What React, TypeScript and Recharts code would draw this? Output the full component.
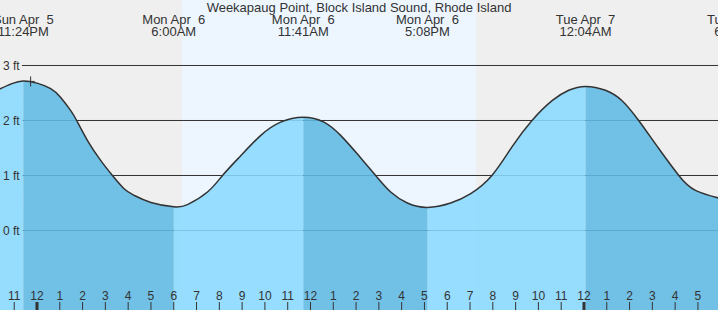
import {
  Area,
  ComposedChart,
  Line,
  ReferenceArea,
  ReferenceDot,
  ReferenceLine,
  XAxis,
  YAxis,
} from "recharts";

// tide curve: hours from midnight Apr 6, height in ft
const tideHours = [
  -1.7, -1.1, -0.6, 0.0, 0.6, 1.04, 1.48, 1.74, 2.21, 2.8, 3.31, 3.82, 4.26, 5.0,
  6.0, 6.6, 7.48, 8.14, 8.94, 9.82, 10.69, 11.683, 12.59, 13.32, 14.06, 14.86,
  15.52, 16.25, 17.133, 18.15, 19.03, 19.96, 20.84, 21.72, 22.6, 23.33, 24.067,
  24.94, 25.67, 26.4, 27.28, 28.16, 28.89, 29.91, 30.0,
];
const tideFeet = [
  2.56, 2.67, 2.72, 2.68, 2.58, 2.42, 2.18, 2.0, 1.64, 1.27, 1.0, 0.76, 0.64, 0.51,
  0.43, 0.47, 0.7, 1.0, 1.36, 1.73, 1.97, 2.06, 1.97, 1.73, 1.39, 1.0,
  0.7, 0.5, 0.42, 0.5, 0.67, 1.0, 1.52, 2.0, 2.36, 2.55, 2.62,
  2.55, 2.36, 2.0, 1.49, 1.0, 0.73, 0.59, 0.58,
];

const extremeHours = [-0.6, 6.0, 11.683, 17.133, 24.067, 30.7];
const extremeKinds = ["H", "L", "H", "L", "H", "L"];
const extremeDays = ["Sun Apr  5", "Mon Apr  6", "Mon Apr  6", "Mon Apr  6", "Tue Apr  7", "Tue Apr  7"];
const extremeTimes = ["11:24PM", "6:00AM", "11:41AM", "5:08PM", "12:04AM", "6:42AM"];

const hourTicks = [
  -1, 0, 1, 2, 3, 4, 5, 6, 7, 8, 9, 10, 11, 12, 13, 14, 15, 16, 17, 18, 19, 20,
  21, 22, 23, 24, 25, 26, 27, 28, 29,
];
const feetTicks = [0, 1, 2, 3];
const daylight = [6.36, 19.26];
const nowMarker = [-0.28, 2.71];

const title = "Weekapaug Point, Block Island Sound, Rhode Island";

const X_DOMAIN: [number, number] = [-1.6235, 29.88];
const Y_DOMAIN: [number, number] = [-1.4455, 4.1909];
const GRID_START = -0.66;

const FONT = "'Liberation Sans', Arial, sans-serif";
const INK = "#333333";

const rows = tideHours.map((h, i) => {
  const ft = tideFeet[i];
  let last = -1;
  extremeHours.forEach((e, k) => {
    if (e <= h + 1e-6) last = k;
  });
  const atExtreme = extremeHours.some((e) => Math.abs(e - h) < 1e-6);
  const falling = last >= 0 && extremeKinds[last] === "H";
  return {
    h,
    tide: ft,
    fall: falling || atExtreme ? ft : null,
    rise: !falling || atExtreme ? ft : null,
  };
});

function HourTick({ x, y, payload }: any) {
  const v = payload.value as number;
  const hr = ((v % 12) + 12) % 12;
  const midnight = ((v % 24) + 24) % 24 === 0;
  return (
    <g>
      <text x={x} y={y - 14} dy="0.355em" textAnchor="middle" fill={INK} fontSize={12} fontFamily={FONT}>
        {hr === 0 ? 12 : hr}
      </text>
      <line x1={x} x2={x} y1={y - 8} y2={y} stroke={INK} strokeWidth={midnight ? 3 : 1} />
    </g>
  );
}

function FeetTick({ x, y, payload }: any) {
  return (
    <text x={x + 3} y={y} dy="0.355em" textAnchor="start" fill={INK} fontSize={12} fontFamily={FONT}>
      {`${payload.value} ft`}
    </text>
  );
}

function extremeLabel(day: string, time: string) {
  return (props: any) => {
    const cx = props.viewBox?.x ?? 0;
    return (
      <g>
        <text x={cx} y={19.5} dy="0.355em" textAnchor="middle" fill={INK} fontSize={13} fontFamily={FONT} style={{ whiteSpace: "pre" }}>
          {day}
        </text>
        <text x={cx} y={31.5} dy="0.355em" textAnchor="middle" fill={INK} fontSize={13} fontFamily={FONT}>
          {time}
        </text>
      </g>
    );
  };
}

const Cross = ({ cx, cy }: any) => (
  <path d={`M${cx - 4},${cy}H${cx + 4}M${cx},${cy - 5}V${cy + 5}`} stroke={INK} strokeWidth={1} fill="none" />
);

export default function App() {
  return (
    <div style={{ position: "absolute", left: 0, top: 0, width: 718, height: 310, background: "#efefef" }}>
      <ComposedChart width={718} height={310} data={rows} margin={{ top: 0, right: 0, bottom: 0, left: 0 }}>
        <ReferenceArea
          x1={daylight[0]}
          x2={daylight[1]}
          fill="#edf6ff"
          fillOpacity={1}
          stroke="none"
          ifOverflow="hidden"
          zIndex={-300}
        />
        {feetTicks.map((v) => (
          <ReferenceLine
            key={`g${v}`}
            segment={[
              { x: GRID_START, y: v },
              { x: X_DOMAIN[1], y: v },
            ]}
            stroke={INK}
            strokeWidth={1}
            zIndex={-200}
          />
        ))}
        <XAxis
          type="number"
          dataKey="h"
          domain={X_DOMAIN}
          allowDataOverflow
          ticks={hourTicks}
          interval={0}
          mirror
          height={30}
          tickSize={0}
          tickMargin={0}
          axisLine={false}
          tickLine={false}
          tick={<HourTick />}
        />
        <YAxis
          type="number"
          domain={Y_DOMAIN}
          allowDataOverflow
          ticks={feetTicks}
          mirror
          width={30}
          tickSize={0}
          tickMargin={0}
          axisLine={false}
          tickLine={false}
          tick={<FeetTick />}
        />
        <Area
          type="natural"
          dataKey="rise"
          stroke="none"
          fill="#8ad9ff"
          fillOpacity={0.88}
          baseValue={Y_DOMAIN[0]}
          connectNulls={false}
          dot={false}
          activeDot={false}
          isAnimationActive={false}
        />
        <Area
          type="natural"
          dataKey="fall"
          stroke="none"
          fill="#60b9e4"
          fillOpacity={0.88}
          baseValue={Y_DOMAIN[0]}
          connectNulls={false}
          dot={false}
          activeDot={false}
          isAnimationActive={false}
        />
        <Line
          type="natural"
          dataKey="tide"
          stroke={INK}
          strokeWidth={1.5}
          dot={false}
          activeDot={false}
          isAnimationActive={false}
        />
        {extremeHours.map((h, i) => (
          <ReferenceLine
            key={`e${i}`}
            x={h}
            stroke="none"
            ifOverflow="visible"
            label={extremeLabel(extremeDays[i], extremeTimes[i])}
          />
        ))}
        <ReferenceDot x={nowMarker[0]} y={nowMarker[1]} r={4} shape={<Cross />} ifOverflow="visible" />
        <text x={359} y={7.5} dy="0.355em" textAnchor="middle" fill={INK} fontSize={13} fontFamily={FONT}>
          {title}
        </text>
      </ComposedChart>
    </div>
  );
}
